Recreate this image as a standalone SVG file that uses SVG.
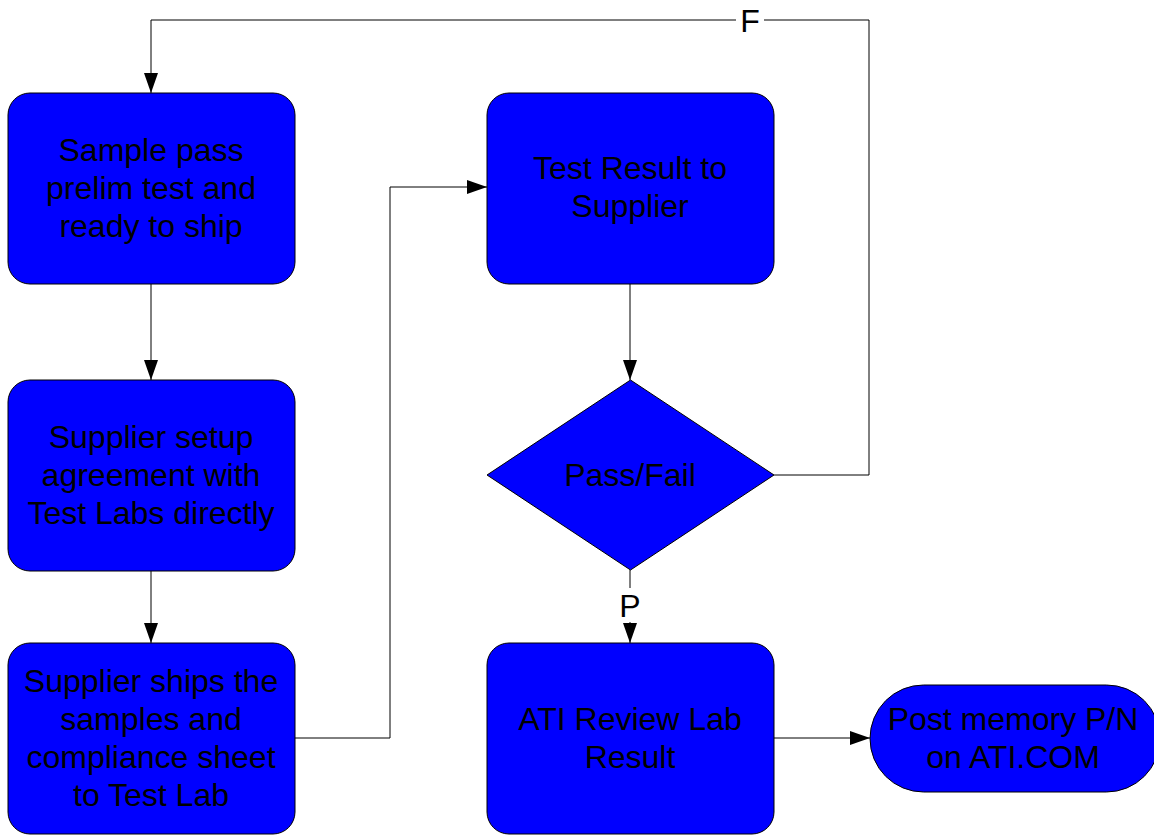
<svg xmlns="http://www.w3.org/2000/svg" width="1154" height="835" viewBox="0 0 1154 835">
<defs>
<marker id="arr" markerWidth="20" markerHeight="14" refX="20" refY="7" orient="auto" markerUnits="userSpaceOnUse">
<path d="M0,0 L20,7 L0,14 Z" fill="#000"/>
</marker>
<style>
.n{fill:#0000FF;stroke:#000;stroke-width:1}
.t{font-family:"Liberation Sans",Arial,sans-serif;font-size:32px;fill:#000;text-anchor:middle}
.c{fill:none;stroke:#000;stroke-width:1}
</style>
</defs>
<rect width="1154" height="835" fill="#fff"/>
<g id="connectors">
<polyline class="c" points="774,475 869,475 869,20 151,20 151,93" marker-end="url(#arr)"/>
<line class="c" x1="151" y1="284" x2="151" y2="380" marker-end="url(#arr)"/>
<line class="c" x1="151" y1="571" x2="151" y2="643" marker-end="url(#arr)"/>
<polyline class="c" points="295,738 390,738 390,187 487,187" marker-end="url(#arr)"/>
<line class="c" x1="630" y1="284" x2="630" y2="380" marker-end="url(#arr)"/>
<line class="c" x1="630" y1="570" x2="630" y2="643" marker-end="url(#arr)"/>
<line class="c" x1="774" y1="738" x2="870" y2="738" marker-end="url(#arr)"/>
<rect x="736" y="4" width="28" height="32" fill="#fff"/>
<text class="t" x="750" y="32">F</text>
<rect x="616" y="588" width="28" height="34" fill="#fff"/>
<text class="t" x="630" y="617">P</text>
</g>
<g id="n1">
<rect class="n" x="8" y="93" width="287" height="191" rx="22"/>
<text class="t" x="151" y="161">Sample pass</text>
<text class="t" x="151" y="199">prelim test and</text>
<text class="t" x="151" y="237">ready to ship</text>
</g>
<g id="n2">
<rect class="n" x="8" y="380" width="287" height="191" rx="22"/>
<text class="t" x="151" y="448">Supplier setup</text>
<text class="t" x="151" y="486">agreement with</text>
<text class="t" x="151" y="524">Test Labs directly</text>
</g>
<g id="n3">
<rect class="n" x="8" y="643" width="287" height="191" rx="22"/>
<text class="t" x="151" y="692">Supplier ships the</text>
<text class="t" x="151" y="730">samples and</text>
<text class="t" x="151" y="768">compliance sheet</text>
<text class="t" x="151" y="806">to Test Lab</text>
</g>
<g id="n4">
<rect class="n" x="487" y="93" width="287" height="191" rx="22"/>
<text class="t" x="630" y="179">Test Result to</text>
<text class="t" x="630" y="217">Supplier</text>
</g>
<g id="n5">
<polygon class="n" points="630.5,380 774,475 630.5,570 487,475"/>
<text class="t" x="630" y="486">Pass/Fail</text>
</g>
<g id="n6">
<rect class="n" x="487" y="643" width="287" height="191" rx="22"/>
<text class="t" x="630" y="730">ATI Review Lab</text>
<text class="t" x="630" y="768">Result</text>
</g>
<g id="n7">
<rect class="n" x="870" y="685" width="290" height="107" rx="53.5"/>
<text class="t" x="1013" y="730">Post memory P/N</text>
<text class="t" x="1013" y="768">on ATI.COM</text>
</g>
</svg>
